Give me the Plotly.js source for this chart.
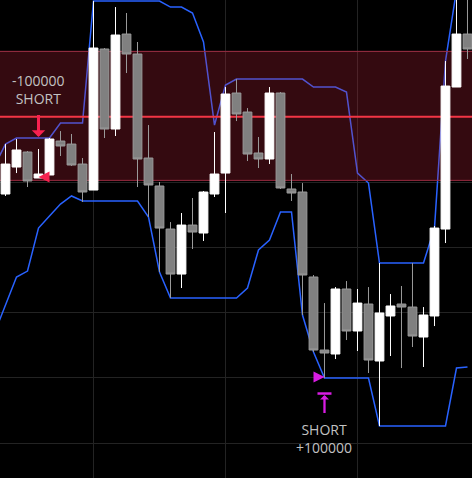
<!DOCTYPE html>
<html>
<head>
<meta charset="utf-8">
<script src="https://cdn.plot.ly/plotly-3.0.1.min.js"></script>
<style>
  html, body { margin: 0; padding: 0; background: #000; }
  #chart { width: 472px; height: 478px; }
</style>
</head>
<body>
<div id="chart"></div>
<script>
// candles, bar 0 = first visible bar
const open  = [138.16, 142.29, 144.59, 140.61, 141.07, 146.27, 145.81, 142.75, 138.77, 160.36,
               148.11, 162.65, 159.59, 143.67, 139.39, 132.80, 125.91, 133.41, 132.19, 138.16,
               141.37, 153.62, 150.71, 144.44, 143.52, 153.62, 138.93, 138.47, 125.46, 114.28,
               113.67, 123.62, 117.19, 121.32, 112.60, 119.49, 121.32, 120.86, 116.27, 119.49,
               132.80, 154.54, 162.65];
const high  = [145.81, 146.58, 144.74, 145.05, 146.73, 147.80, 147.35, 143.67, 167.70, 160.51,
               166.78, 165.87, 161.43, 148.72, 140.00, 133.87, 135.25, 137.55, 138.62, 147.65,
               154.54, 155.76, 151.32, 146.89, 154.54, 153.77, 141.22, 139.84, 125.76, 121.47,
               123.92, 124.84, 123.62, 123.92, 127.60, 122.85, 124.08, 127.60, 120.86, 133.26,
               158.52, 168.62, 168.62];
const low   = [137.86, 141.37, 139.23, 140.61, 141.07, 143.98, 142.45, 136.94, 138.77, 146.73,
               147.04, 156.68, 139.23, 134.64, 126.22, 122.24, 123.77, 129.74, 130.97, 137.70,
               135.25, 149.33, 143.21, 142.14, 142.75, 138.93, 137.09, 119.64, 113.98, 109.99,
               112.90, 115.81, 114.13, 110.76, 102.65, 113.36, 111.52, 114.74, 111.68, 117.95,
               130.66, 154.54, 158.83];
const close = [142.75, 144.90, 140.15, 141.22, 146.58, 145.51, 142.60, 138.47, 160.51, 148.11,
               162.50, 159.59, 143.52, 139.54, 132.95, 125.91, 133.41, 132.34, 138.47, 141.22,
               153.47, 150.41, 144.28, 143.52, 153.62, 139.08, 138.31, 125.76, 114.28, 113.82,
               123.62, 117.19, 121.47, 112.75, 119.95, 121.02, 120.86, 116.42, 119.64, 132.95,
               154.69, 162.65, 160.36];

// channel lines, starting one bar before the first visible bar
const upperBand = [142.45, 145.81, 146.73, 146.73, 146.73, 146.73, 149.03, 149.03, 149.03, 167.70,
                   167.70, 167.70, 167.70, 167.70, 167.70, 167.70, 166.78, 166.78, 165.87, 161.43,
                   148.72, 154.85, 155.76, 155.76, 155.76, 155.76, 155.76, 155.76, 155.76, 154.54,
                   154.54, 154.54, 153.77, 141.37, 139.84, 127.60, 127.60, 127.60, 127.60, 127.60,
                   132.95, 158.52, 169.39, 169.39];
const lowerBand = [116.88, 121.17, 125.46, 126.37, 132.95, 134.79, 136.63, 137.86, 137.09, 137.09,
                   137.09, 137.09, 137.09, 137.09, 134.64, 126.22, 122.24, 122.24, 122.24, 122.24,
                   122.24, 122.24, 122.24, 123.77, 129.59, 131.12, 135.41, 135.41, 119.64, 113.98,
                   109.99, 109.99, 109.99, 109.99, 109.99, 102.65, 102.65, 102.65, 102.65, 102.65,
                   102.65, 102.65, 111.52, 111.68];

// sell zone
const zoneTop = 160.0;
const zoneBottom = 140.25;
const zoneLevel = 150.0;

// signals
const signalBar    = [3, 29];
const signalTip    = [146.89, 107.39];
const signalText   = ['-100000<br>SHORT', 'SHORT<br>+100000'];
const fillPrice    = [140.76, 110.15];
const coverBarTop  = [107.62];

const bars = open.map((_, i) => i);
const lineBars = [-1].concat(bars);
const xLo = lineBars[0], xHi = bars[bars.length - 1] + 1;

const red = '#f7214f';
const magenta = '#d81ce3';
const blue = '#2962ff';

const traces = [
  {x: lineBars, y: upperBand, type: 'scatter', mode: 'lines',
   line: {color: blue, width: 1.5}, hoverinfo: 'skip'},
  {x: lineBars, y: lowerBand, type: 'scatter', mode: 'lines',
   line: {color: blue, width: 1.5}, hoverinfo: 'skip'},
  {x: [xLo, xHi, xHi, xLo, xLo], y: [zoneTop, zoneTop, zoneBottom, zoneBottom, zoneTop],
   type: 'scatter', mode: 'lines', fill: 'toself', fillcolor: 'rgba(200,40,62,0.26)',
   line: {color: '#9c2c42', width: 1}, hoverinfo: 'skip'},
  {x: [xLo, xHi], y: [zoneLevel, zoneLevel], type: 'scatter', mode: 'lines',
   line: {color: '#f23645', width: 2}, hoverinfo: 'skip'},
  {x: bars, open: open, high: high, low: low, close: close, type: 'candlestick',
   yaxis: 'y2', whiskerwidth: 0,
   increasing: {line: {color: '#ffffff', width: 1}, fillcolor: '#ffffff'},
   decreasing: {line: {color: '#9a9a9a', width: 1}, fillcolor: '#808080'}},
  {x: signalBar, y: fillPrice, yaxis: 'y2', type: 'scatter', mode: 'markers',
   marker: {symbol: ['arrow-left', 'arrow-right'], size: 11, color: [red, magenta],
            line: {width: 0}}, hoverinfo: 'skip'},
  {x: [signalBar[1]], y: coverBarTop, yaxis: 'y2', type: 'scatter', mode: 'markers',
   marker: {symbol: 'line-ew', size: 10, line: {color: magenta, width: 2.5}}, hoverinfo: 'skip'}
];

const yRange = [94.69, 167.86];

const layout = {
  width: 472, height: 478,
  margin: {l: 0, r: 0, t: 0, b: 0},
  paper_bgcolor: '#000', plot_bgcolor: '#000',
  showlegend: false,
  boxgap: 0.2,
  boxgroupgap: 0,
  xaxis: {range: [-0.5, 42.41], tick0: 8, dtick: 12, showgrid: true, gridcolor: '#232323',
          gridwidth: 1, zeroline: false, showticklabels: false, showline: false,
          rangeslider: {visible: false}, fixedrange: true},
  yaxis: {range: yRange, tick0: 100, dtick: 10, showgrid: true, gridcolor: '#232323',
          gridwidth: 1, zeroline: false, showticklabels: false, showline: false, fixedrange: true},
  yaxis2: {range: yRange, overlaying: 'y', visible: false, showgrid: false, fixedrange: true},
  annotations: [
    {x: signalBar[0], y: signalTip[0], xref: 'x', yref: 'y', text: signalText[0],
     showarrow: true, ax: 0, ay: -47, arrowhead: 1, arrowsize: 0.75, arrowwidth: 3,
     arrowcolor: red, startstandoff: 5,
     font: {family: 'Open Sans', size: 14, color: '#c2c2c2'}},
    {x: signalBar[1], y: signalTip[1], xref: 'x', yref: 'y', text: signalText[1],
     showarrow: true, ax: 0, ay: 43, arrowhead: 1, arrowsize: 0.65, arrowwidth: 2.3,
     arrowcolor: magenta, startstandoff: 5,
     font: {family: 'Open Sans', size: 14, color: '#c2c2c2'}}
  ]
};

Plotly.newPlot('chart', traces, layout, {displayModeBar: false, staticPlot: true});
</script>
</body>
</html>
